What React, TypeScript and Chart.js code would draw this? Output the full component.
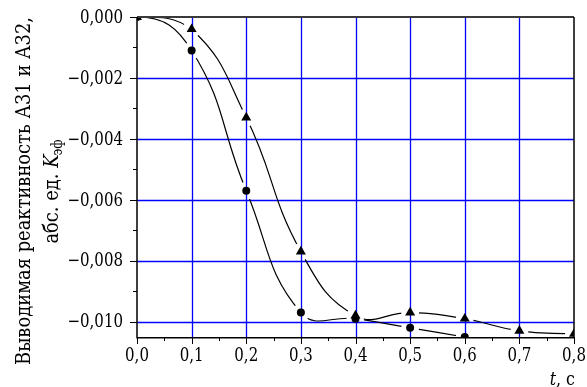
import { useEffect, useRef } from 'react';
import { Chart, registerables } from 'chart.js';

Chart.register(...registerables);

// Time, s
const timeS = [0, 0.1, 0.2, 0.3, 0.4, 0.5, 0.6, 0.7, 0.8];
// Withdrawn reactivity, abs. units K_eff (circle markers)
const circleSeries = [0, -0.0011, -0.0057, -0.0097, -0.0099, -0.0102, -0.0105];
// Withdrawn reactivity, abs. units K_eff (triangle markers)
const triangleSeries = [0, -0.0004, -0.0033, -0.0077, -0.0098, -0.0097, -0.0099, -0.0103, -0.0104];

const yTicks = [-0.01, -0.008, -0.006, -0.004, -0.002, 0];
const yMinorTicks = [-0.009, -0.007, -0.005, -0.003, -0.001];
const xTicks = [0, 0.1, 0.2, 0.3, 0.4, 0.5, 0.6, 0.7, 0.8];
const xMinorTicks = [0.05, 0.15, 0.25, 0.35, 0.45, 0.55, 0.65, 0.75];

const yTitleLine1 = 'Выводимая реактивность А31 и А32,';
const yTitleLine2 = 'абс. ед. ';
const yTitleSymbol = 'K';
const yTitleSubscript = 'эф';
const xTitleSymbol = 't';
const xTitleUnit = ', с';

const Y_MIN = -0.0105;
const Y_MAX = 0;
const X_MIN = 0;
const X_MAX = 0.8;

const FONT = '"DejaVu Serif", serif';
const GRID_BLUE = '#0000ff';

const toPoints = (ys: number[]) => ys.map((y, i) => ({ x: timeS[i], y }));

const fmtY = (v: number) => {
  if (Math.abs(v) < 1e-12) return '0,000';
  return (v < 0 ? '\u2212' : '') + Math.abs(v).toFixed(3).replace('.', ',');
};
const fmtX = (v: number) => v.toFixed(1).replace('.', ',');

const crisp = (p: number) => Math.round(p) + 0.5;

// Line datasets: curves start with zero slope and get a gap cut around each marker
const LINE_DATASETS = new Set([2, 3]);
const GAP_R = 9;

const curveStylePlugin = {
  id: 'curveStyle',
  beforeDatasetDraw(chart: any, args: any) {
    if (!LINE_DATASETS.has(args.index)) return;
    const { ctx, chartArea } = chart;
    const line = args.meta.dataset;
    const pts = args.meta.data;
    if (line && line.updateControlPoints && pts.length > 1) {
      line.updateControlPoints(chartArea, 'x');
      const p0 = pts[0];
      const p1 = pts[1];
      p0.cp2x = p0.x + 0.5 * (p1.x - p0.x);
      p0.cp2y = p0.y;
      line._path = undefined;
    }
    ctx.save();
    ctx.beginPath();
    ctx.rect(chartArea.left - 5, chartArea.top - 5, chartArea.width + 10, chartArea.height + 10);
    pts.forEach((pt: any, i: number) => {
      if (i === 0) return;
      ctx.moveTo(pt.x + GAP_R, pt.y);
      ctx.arc(pt.x, pt.y, GAP_R, 0, Math.PI * 2);
    });
    ctx.clip('evenodd');
  },
  afterDatasetDraw(chart: any, args: any) {
    if (!LINE_DATASETS.has(args.index)) return;
    chart.ctx.restore();
  },
};

// Blue grid inside the plot area
const gridPlugin = {
  id: 'blueGrid',
  beforeDatasetsDraw(chart: any) {
    const { ctx, chartArea, scales } = chart;
    ctx.save();
    ctx.strokeStyle = GRID_BLUE;
    ctx.lineWidth = 1.3;
    xTicks.forEach((v) => {
      if (v <= X_MIN || v >= X_MAX) return;
      const x = crisp(scales.x.getPixelForValue(v));
      ctx.beginPath();
      ctx.moveTo(x, chartArea.top);
      ctx.lineTo(x, chartArea.bottom);
      ctx.stroke();
    });
    yTicks.forEach((v) => {
      if (v >= Y_MAX) return;
      const y = crisp(scales.y.getPixelForValue(v));
      ctx.beginPath();
      ctx.moveTo(chartArea.left, y);
      ctx.lineTo(chartArea.right, y);
      ctx.stroke();
    });
    ctx.restore();
  },
};

// Horizontally condensed text, so the serif face keeps a Times-like width
const drawText = (ctx: any, text: string, x: number, y: number, font: string, sx: number, align: string, baseline: string) => {
  ctx.save();
  ctx.font = font;
  ctx.textAlign = align;
  ctx.textBaseline = baseline;
  ctx.translate(x, y);
  ctx.scale(sx, 1);
  ctx.fillText(text, 0, 0);
  ctx.restore();
};

const axesDecorPlugin = {
  id: 'axesDecor',
  afterDraw(chart: any) {
    const { ctx, chartArea, scales } = chart;
    const xs = scales.x;
    const ys = scales.y;
    const L = Math.round(chartArea.left);
    const R = Math.round(chartArea.right);
    const T = Math.round(chartArea.top);
    const B = Math.round(chartArea.bottom);
    ctx.save();
    ctx.strokeStyle = '#000';
    ctx.lineWidth = 1;
    const yt = (v: number, len: number) => {
      const y = crisp(ys.getPixelForValue(v));
      ctx.beginPath();
      ctx.moveTo(L - len, y);
      ctx.lineTo(L, y);
      ctx.stroke();
    };
    yTicks.forEach((v) => yt(v, 7));
    yMinorTicks.forEach((v) => yt(v, 4));
    const xt = (v: number, len: number) => {
      const x = crisp(xs.getPixelForValue(v));
      ctx.beginPath();
      ctx.moveTo(x, B);
      ctx.lineTo(x, B + len);
      ctx.stroke();
    };
    xTicks.forEach((v) => xt(v, 7));
    xMinorTicks.forEach((v) => xt(v, 4));

    // frame
    ctx.strokeStyle = '#3a3a3a';
    ctx.lineWidth = 2;
    ctx.beginPath();
    ctx.moveTo(L, T);
    ctx.lineTo(R, T);
    ctx.stroke();
    ctx.strokeStyle = '#000';
    ctx.lineWidth = 1.5;
    ctx.beginPath();
    ctx.moveTo(R, T);
    ctx.lineTo(R, B);
    ctx.stroke();
    ctx.beginPath();
    ctx.moveTo(L, T);
    ctx.lineTo(L, B + 0.75);
    ctx.lineTo(R + 0.75, B + 0.75);
    ctx.stroke();

    ctx.fillStyle = '#000';

    // tick labels
    const tickFont = `18px ${FONT}`;
    ctx.font = tickFont;
    const tickScale = 43 / ctx.measureText('0,000').width;
    yTicks.forEach((v) => {
      drawText(ctx, fmtY(v), 123, ys.getPixelForValue(v) + 1, tickFont, tickScale, 'right', 'middle');
    });
    xTicks.forEach((v) => {
      drawText(ctx, fmtX(v), xs.getPixelForValue(v), 356, tickFont, tickScale, 'center', 'middle');
    });

    // y-axis title, line 1
    const titleFont = `21px ${FONT}`;
    ctx.font = titleFont;
    const line1W = ctx.measureText(yTitleLine1).width;
    const titleScale = 348 / line1W;
    const cy = 191;
    ctx.save();
    ctx.translate(30, cy);
    ctx.rotate(-Math.PI / 2);
    drawText(ctx, yTitleLine1, 0, 0, titleFont, titleScale, 'center', 'alphabetic');
    ctx.restore();

    // y-axis title, line 2 with subscript
    const symFont = `italic 21px ${FONT}`;
    const subFont = `14px ${FONT}`;
    ctx.font = titleFont;
    const w1 = ctx.measureText(yTitleLine2).width * titleScale;
    ctx.font = symFont;
    const w2 = ctx.measureText(yTitleSymbol).width * titleScale;
    ctx.font = subFont;
    const w3 = ctx.measureText(yTitleSubscript).width * titleScale;
    ctx.save();
    ctx.translate(58, cy);
    ctx.rotate(-Math.PI / 2);
    let x0 = -(w1 + w2 + w3) / 2;
    drawText(ctx, yTitleLine2, x0, 0, titleFont, titleScale, 'left', 'alphabetic');
    x0 += w1;
    drawText(ctx, yTitleSymbol, x0, 0, symFont, titleScale, 'left', 'alphabetic');
    x0 += w2 - 1;
    drawText(ctx, yTitleSubscript, x0, 4, subFont, titleScale, 'left', 'alphabetic');
    ctx.restore();

    // x-axis title
    const axFont = `19px ${FONT}`;
    const axItalic = `italic 19px ${FONT}`;
    ctx.font = axFont;
    const restW = ctx.measureText(xTitleUnit).width * tickScale;
    ctx.font = axItalic;
    const tW = ctx.measureText(xTitleSymbol).width * tickScale;
    const xEnd = 575;
    const base = 385;
    drawText(ctx, xTitleSymbol, xEnd - restW - tW, base, axItalic, tickScale, 'left', 'alphabetic');
    drawText(ctx, xTitleUnit, xEnd - restW, base, axFont, tickScale, 'left', 'alphabetic');
    ctx.restore();
  },
};

export default function App() {
  const canvasRef = useRef<HTMLCanvasElement | null>(null);

  useEffect(() => {
    const canvas = canvasRef.current;
    if (!canvas) return;
    const circlePts = toPoints(circleSeries);
    const trianglePts = toPoints(triangleSeries);
    const chart = new Chart(canvas, {
      type: 'line',
      data: {
        datasets: [
          { data: circlePts, showLine: false, pointStyle: 'circle', pointRadius: 4, pointBackgroundColor: '#000', pointBorderColor: '#000', pointBorderWidth: 0 },
          { data: trianglePts, showLine: false, pointStyle: 'triangle', pointRadius: 5.8, pointBackgroundColor: '#000', pointBorderColor: '#000', pointBorderWidth: 0 },
          { data: circlePts, borderColor: '#000', borderWidth: 1.2, pointRadius: 0, tension: 0.45, fill: false },
          { data: trianglePts, borderColor: '#000', borderWidth: 1.2, pointRadius: 0, tension: 0.45, fill: false },
        ],
      },
      options: {
        responsive: false,
        animation: false,
        events: [],
        layout: { padding: { top: 17, right: 13, left: 0, bottom: 0 } },
        plugins: { legend: { display: false }, tooltip: { enabled: false }, title: { display: false } },
        scales: {
          x: {
            type: 'linear',
            min: X_MIN,
            max: X_MAX,
            afterBuildTicks: (scale: any) => { scale.ticks = xTicks.map((v) => ({ value: v })); },
            afterFit: (scale: any) => { scale.height = 50; },
            ticks: { display: false },
            grid: { display: false, drawTicks: false },
            border: { display: false },
          },
          y: {
            type: 'linear',
            min: Y_MIN,
            max: Y_MAX,
            afterBuildTicks: (scale: any) => { scale.ticks = yTicks.map((v) => ({ value: v })); },
            afterFit: (scale: any) => { scale.width = 137; },
            ticks: { display: false },
            grid: { display: false, drawTicks: false },
            border: { display: false },
          },
        },
      },
      plugins: [gridPlugin, curveStylePlugin, axesDecorPlugin],
    } as any);
    return () => chart.destroy();
  }, []);

  return (
    <div style={{ position: 'fixed', left: 0, top: 0, width: 587, height: 387, background: '#fff' }}>
      <canvas ref={canvasRef} width={587} height={387} style={{ display: 'block' }} />
    </div>
  );
}
